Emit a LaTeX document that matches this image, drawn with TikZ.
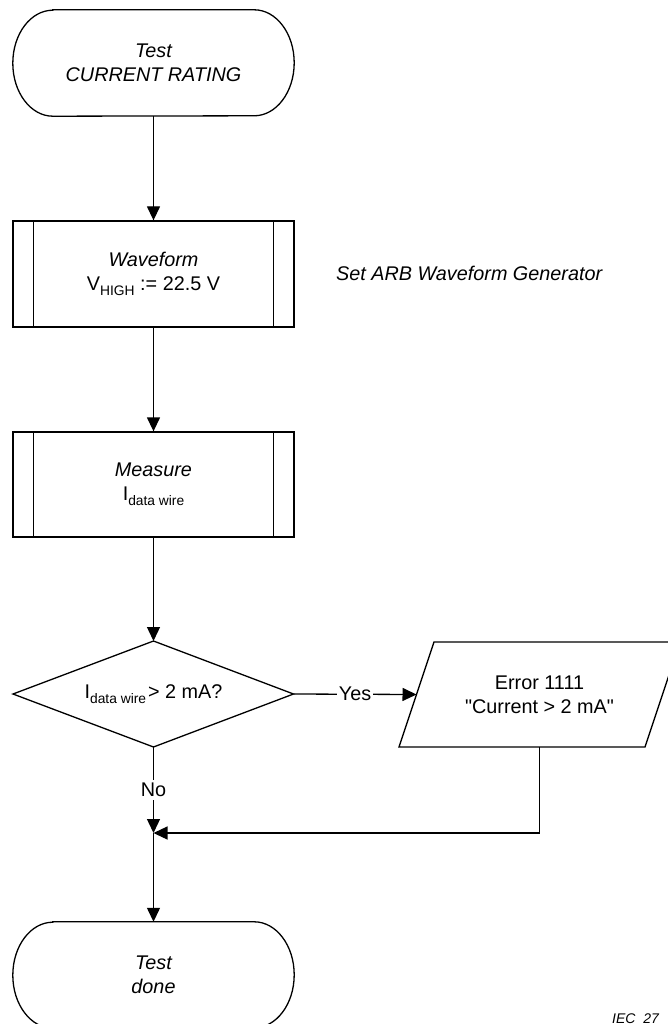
\documentclass[tikz,border=0pt]{standalone}
\usepackage{fontspec}
\setmainfont{Liberation Sans}[Ligatures=TeXOff]
\usetikzlibrary{arrows.meta}
\newcommand{\mysub}[1]{\raisebox{-5pt}{\fontsize{13.8}{14}\selectfont #1}}
\begin{document}
\begin{tikzpicture}[x=1pt,y=1pt,
  every node/.style={font=\fontsize{19.8}{24}\selectfont, align=center, inner sep=0pt},
  line/.style={line width=1.3pt},
  arr/.style={line width=1.3pt, -{Triangle[length=14pt,width=13pt]}},
  boxnode/.style={draw, line width=1.3pt, minimum width=281pt, minimum height=106pt},
  lbl/.style={fill=white, inner sep=1.5pt}
]
\useasboundingbox (0,0) rectangle (667,-1024);

% start terminal
\node (start) [minimum width=281pt, minimum height=106pt] at (153.5,-63) {\itshape Test\\\itshape CURRENT RATING};
\draw[line] ([xshift=40pt]start.north west) -- ([xshift=-40pt]start.north east)
  arc[start angle=90,end angle=-90,x radius=40pt,y radius=53pt]
  -- ([xshift=40pt]start.south west)
  arc[start angle=270,end angle=90,x radius=40pt,y radius=53pt] -- cycle;

% waveform predefined process
\node (wave) [boxnode] at (153.5,-274) {\itshape Waveform\\V\mysub{HIGH} := 22.5 V};
\draw[line] ([xshift=21pt]wave.north west) -- ([xshift=21pt]wave.south west);
\draw[line] ([xshift=-21pt]wave.north east) -- ([xshift=-21pt]wave.south east);

\node (note) [anchor=west] at (336,-273) {\itshape Set ARB Waveform Generator};

% measure
\node (meas) [boxnode, minimum height=105pt] at (153.5,-484.5) {\itshape Measure\\I\mysub{data wire}};
\draw[line] ([xshift=21pt]meas.north west) -- ([xshift=21pt]meas.south west);
\draw[line] ([xshift=-21pt]meas.north east) -- ([xshift=-21pt]meas.south east);

% decision
\coordinate (dc) at (153.5,-694);
\coordinate (dN) at (153.5,-641);
\coordinate (dS) at (153.5,-747);
\coordinate (dW) at (13,-694);
\coordinate (dE) at (293.5,-694);
\draw[line] (dN) -- (dE) -- (dS) -- (dW) -- cycle;
\node (dec) at (dc) {I\mysub{data wire}\hspace{2pt}> 2 mA?};

% error parallelogram
\coordinate (eBL) at (399,-747);
\coordinate (eBR) at (645,-747);
\coordinate (eTR) at (680,-642);
\coordinate (eTL) at (434,-642);
\coordinate (eW) at (416.5,-694.5);
\coordinate (eS) at (539.5,-747);
\draw[line] (eBL) -- (eBR) -- (eTR) -- (eTL) -- cycle;
\node (err) at (539.5,-694.5) {Error 1111\\"Current > 2 mA"};

% done terminal
\node (done) [minimum width=281pt, minimum height=106pt] at (153.5,-975) {\itshape Test\\\itshape done};
\draw[line] ([xshift=40pt]done.north west) -- ([xshift=-40pt]done.north east)
  arc[start angle=90,end angle=-90,x radius=40pt,y radius=53pt]
  -- ([xshift=40pt]done.south west)
  arc[start angle=270,end angle=90,x radius=40pt,y radius=53pt] -- cycle;

\coordinate (junc) at (153.5,-833);
\coordinate (ebend) at (539.5,-833);

% connectors
\draw[arr] (start.south) -- (wave.north);
\draw[arr] (wave.south) -- (meas.north);
\draw[arr] (meas.south) -- (dN);
\draw[arr] (dE) -- node[lbl] (yes) {Yes} (eW);
\draw[arr] (dS) -- node[lbl, inner sep=3pt, pos=0.5] (no) {No} (junc);
\draw[arr] (eS) -- (ebend) -- (junc);
\draw[arr] (junc) -- (done.north);

\node (iec) [anchor=base west, font=\fontsize{14}{16}\selectfont\itshape] at (612,-1023) {IEC\ \ 27};
\end{tikzpicture}
\end{document}
